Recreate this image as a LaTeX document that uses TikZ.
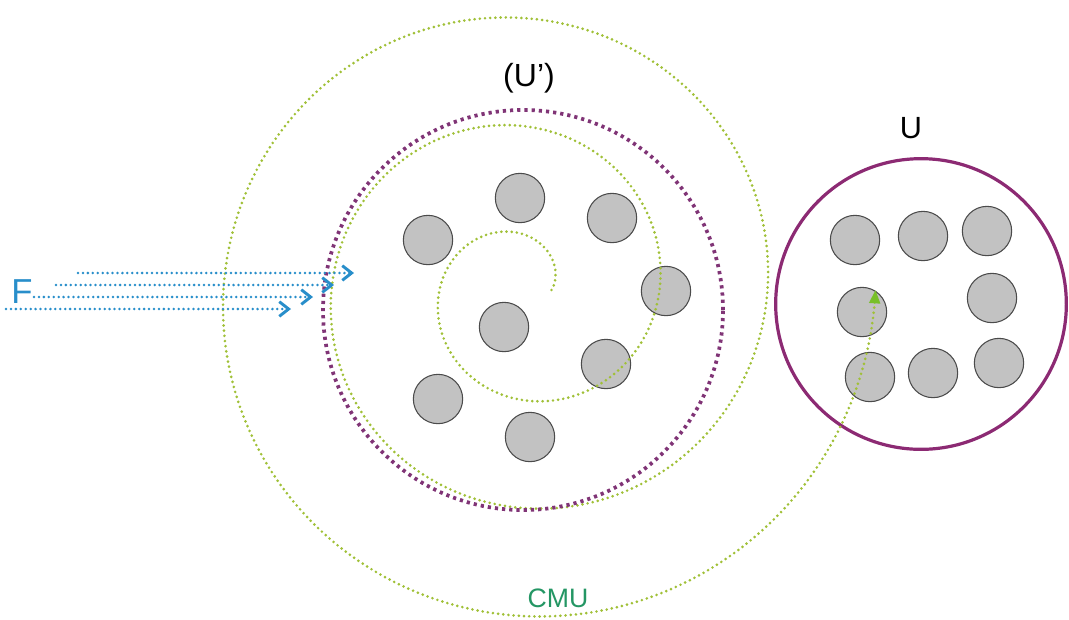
\documentclass[tikz,border=0pt]{standalone}
\usepackage{fontspec}
\setmainfont{Liberation Sans}
\usetikzlibrary{arrows.meta}
\definecolor{spiralgreen}{RGB}{160,192,55}
\definecolor{tipgreen}{RGB}{120,192,40}
\definecolor{dotpurple}{RGB}{128,52,118}
\definecolor{upurple}{RGB}{140,42,115}
\definecolor{fblue}{RGB}{40,142,202}
\definecolor{cmugreen}{RGB}{36,150,100}
\definecolor{ballfill}{RGB}{194,194,194}
\definecolor{balldraw}{RGB}{75,75,75}
\begin{document}
\begin{tikzpicture}[x=0.75pt,y=-0.75pt,
  ball/.style={circle, fill=ballfill, draw=balldraw, line width=0.8pt, minimum size=37pt, inner sep=0pt},
  spiralline/.style={draw=spiralgreen, line width=2.2pt, line cap=round, dash pattern=on 0pt off 3.9pt},
  purpledots/.style={circle, draw=dotpurple, line width=2.8pt, dash pattern=on 2.4pt off 3.0pt, inner sep=0pt},
  ucircle/.style={circle, draw=upurple, line width=2.4pt, inner sep=0pt},
  farrow/.style={draw=fblue, line width=2.1pt, line cap=round, dash pattern=on 0pt off 3.7pt,
    -{Straight Barb[length=7pt,width=11pt,line width=2.2pt,line cap=butt]}},
  biglabel/.style={font=\fontsize{24}{28}\selectfont, inner sep=0pt},
  ]
\useasboundingbox (0,0) rectangle (1069,619);
% grey particles in U'
\node[ball] (b1) at (428,240) {};
\node[ball] (b2) at (520,198) {};
\node[ball] (b3) at (612,218) {};
\node[ball] (b4) at (666,291) {};
\node[ball] (b5) at (504,327) {};
\node[ball] (b6) at (606,364) {};
\node[ball] (b7) at (438,399) {};
\node[ball] (b8) at (530,437) {};
% grey particles in U
\node[ball] (c1) at (855,240) {};
\node[ball] (c2) at (923,236) {};
\node[ball] (c3) at (987,231) {};
\node[ball] (c4) at (992,298) {};
\node[ball] (c5) at (862,312) {};
\node[ball] (c6) at (870,377) {};
\node[ball] (c7) at (933,373) {};
\node[ball] (c8) at (999,363) {};
% U circle
\node[ucircle, minimum size=218pt] (U) at (921,304) {};
% spiral (CMU)
\draw[spiralline, -{Triangle[length=10pt,width=8pt,color=tipgreen]}]
  plot[domain=0:1080, samples=721, variable=\t]
  ({522.5+(29+0.3*\t)*cos(\t)}, {290-(29+0.3*\t)*sin(\t)});
% U' dotted circle
\node[purpledots, minimum size=300pt] (Uprime) at (523,310) {};
% F arrows
\coordinate (f1s) at (78,273);  \coordinate (f1e) at (354,273);
\coordinate (f2s) at (56,285);  \coordinate (f2e) at (334,285);
\coordinate (f3s) at (34,297);  \coordinate (f3e) at (313,297);
\coordinate (f4s) at (6,309);   \coordinate (f4e) at (291,309);
\draw[farrow] (f1s) -- (f1e);
\draw[farrow] (f2s) -- (f2e);
\draw[farrow] (f3s) -- (f3e);
\draw[farrow] (f4s) -- (f4e);
% labels
\node[biglabel] (lUp) at (529,78) {(U’)};
\node[biglabel, font=\fontsize{23}{27}\selectfont] (lU) at (911,128) {U};
\node[biglabel, text=fblue, font=\fontsize{26}{30}\selectfont] (lF) at (22,292) {F};
\node[inner sep=0pt, text=cmugreen, font=\fontsize{20}{24}\selectfont] (lCMU) at (558,598) {CMU};
\end{tikzpicture}
\end{document}
